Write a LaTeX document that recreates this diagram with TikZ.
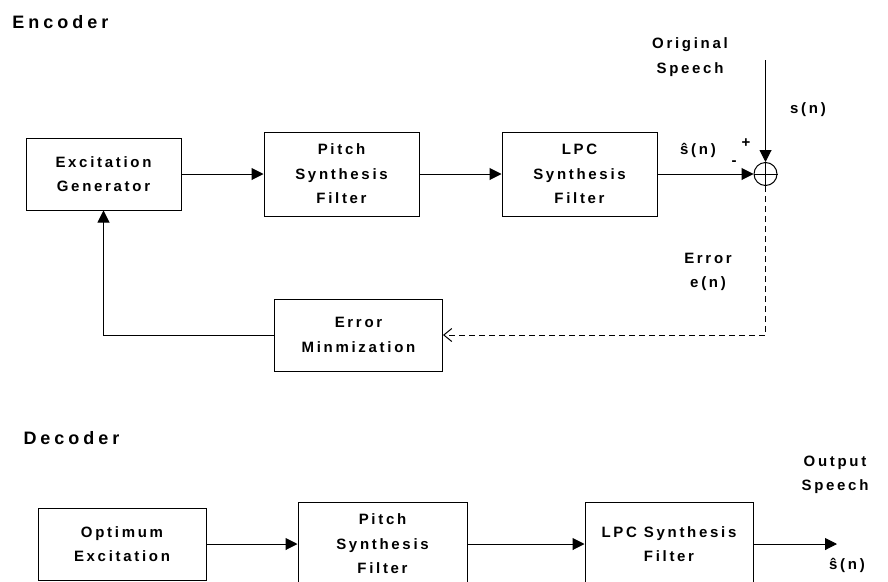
\documentclass[tikz,border=0pt]{standalone}
\usepackage{fontspec}
\setmainfont[LetterSpace=18]{Liberation Sans}
\newfontfamily\hdfont[LetterSpace=22]{Liberation Sans}
\usetikzlibrary{arrows.meta}
\newcommand\txt{\fontsize{15}{24.5}\selectfont\bfseries}
\newcommand\hdtxt{\hdfont\fontsize{18}{22}\selectfont\bfseries}

\begin{document}
\begin{tikzpicture}[x=1pt, y=-1pt, line width=1pt, >={Triangle[length=12pt,width=12pt]},
    blk/.style={draw, rectangle, align=center, inner sep=0pt, font=\txt},
    lbl/.style={align=center, inner sep=0pt, font=\txt},
    hd/.style={anchor=west, inner sep=0pt, font=\hdtxt}]
    \useasboundingbox (0,0) rectangle (888,581);
    \clip (0,0) rectangle (888,581);
    % encoder
    \node[hd] (enc) at (12,22) {Encoder};
    \node[blk, minimum width=155pt, minimum height=72pt] (exc) at (103.5,174) {Excitation\\Generator};
    \node[blk, minimum width=155pt, minimum height=84pt] (pitE) at (341.5,174) {Pitch\\Synthesis\\Filter};
    \node[blk, minimum width=155pt, minimum height=84pt] (lpcE) at (579.5,174) {LPC\\Synthesis\\Filter};
    \node[circle, draw, minimum size=23pt, inner sep=0pt] (sum) at (765.5,174) {};
    \draw (sum.north) -- (sum.south) (sum.west) -- (sum.east);
    \node[blk, minimum width=168pt, minimum height=72pt] (err) at (358.5,335) {Error\\Minmization};
    \coordinate (sin) at (765.5,60);
    \node[lbl] (orig) at (690,57) {Original\\Speech};
    \node[lbl] (sn) at (808,110) {s(n)};
    \node[lbl] (shat) at (698,150) {ŝ(n)};
    \node[lbl] (plus) at (746,143) {+};
    \node[lbl] (minus) at (734,163) {-};
    \node[lbl] (en) at (708,272) {Error\\e(n)};
        \draw[->] (exc) -- (pitE);
        \draw[->] (pitE) -- (lpcE);
        \draw[->] (lpcE) -- (sum);
        \draw[->] (sin) -- (sum);
        \draw[dash pattern=on 6pt off 4pt, -{Straight Barb[length=8pt,width=13pt]}] (sum) |- (err);
        \draw[->] (err) -| (exc);
    % decoder
    \node[hd] (dec) at (23,438) {Decoder};
    \node[blk, minimum width=168pt, minimum height=72pt] (optD) at (122,544) {Optimum\\Excitation};
    \node[blk, minimum width=169pt, minimum height=84pt] (pitD) at (382.5,544) {Pitch\\Synthesis\\Filter};
    \node[blk, minimum width=168pt, minimum height=84pt] (lpcD) at (669,544) {LPC Synthesis\\Filter};
    \coordinate (out) at (837,544);
    \node[lbl] (outsp) at (835,475) {Output\\Speech};
    \node[lbl] (shatD) at (847,565) {ŝ(n)};
        \draw[->] (optD) -- (pitD);
        \draw[->] (pitD) -- (lpcD);
        \draw[->] (lpcD) -- (out);
\end{tikzpicture}
\end{document}
